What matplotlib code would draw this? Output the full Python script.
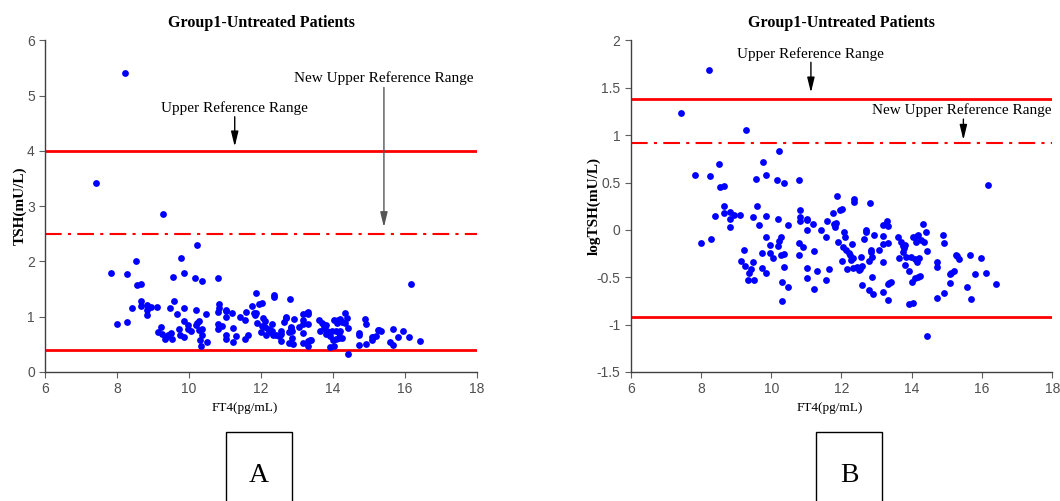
import numpy as np
import matplotlib
matplotlib.use("Agg")
import matplotlib.pyplot as plt
from matplotlib.patches import Rectangle

# FT4 (pg/mL) and natural-log TSH (mU/L) per patient
ft4 = [7.42, 8.22, 7.82, 8.26, 8.52, 8.54, 8.66, 9.28, 9.56, 9.77, 9.86, 10.17, 10.21, 10.35,
       10.80, 11.86, 12.36, 12.36, 16.18,
       8.00, 8.28, 8.40, 8.66, 8.67, 8.83, 8.83, 8.83, 8.94, 9.11, 9.14, 9.23, 9.24, 9.33,
       9.36, 9.42, 9.48, 9.49, 9.52, 9.59, 9.66, 9.73, 9.74, 9.85, 9.86, 9.86, 9.96, 9.96,
       10.06, 10.18, 10.20, 10.21, 10.27, 10.29, 10.31, 10.32, 10.37, 10.37, 10.48, 10.49,
       10.82, 10.82, 10.81, 10.80, 10.80, 10.91, 11.02, 11.03, 11.03, 11.02, 11.02, 11.20,
       11.21, 11.21, 11.31, 11.42, 11.55, 11.55, 11.58, 11.64, 11.75, 11.80, 11.85, 11.82,
       11.90, 11.95, 12.02, 12.01, 12.03, 12.06, 12.10, 12.12, 12.15, 12.20, 12.25, 12.31,
       12.27, 12.32, 12.34, 12.43, 12.50, 12.53, 12.55, 12.57, 12.57, 12.65, 12.69, 12.71,
       12.77, 12.78, 12.82, 12.84, 12.84, 12.86, 12.86, 12.89, 12.93, 13.06, 13.17, 13.18,
       13.18, 13.18, 13.18, 13.28, 13.30, 13.32, 13.32, 13.32, 13.31, 13.40, 13.36, 13.61,
       13.63, 13.70, 13.74, 13.76, 13.78, 13.80, 13.82, 13.83, 13.91, 13.91, 13.97, 14.00,
       14.03, 14.04, 14.08, 14.10, 14.12, 14.14, 14.16, 14.19, 14.20, 14.24, 14.18, 14.26,
       14.33, 14.34, 14.40, 14.43, 14.43, 14.72, 14.72, 14.72, 14.89, 14.91, 14.93, 15.08,
       15.08, 15.11, 15.19, 15.25, 15.29, 15.35, 15.58, 15.66, 15.68, 15.80, 15.96, 16.11,
       16.41]
ln_tsh = [1.23, 1.69, 0.58, 0.57, 0.70, 0.45, 0.46, 1.05, 0.54, 0.72, 0.58, 0.53, 0.83, 0.50,
          0.53, 0.36, 0.33, 0.30, 0.47,
          -0.14, -0.10, 0.15, 0.25, 0.18, 0.19, 0.11, 0.03, 0.16, 0.16, -0.33, -0.21, -0.38, -0.53,
          -0.45, -0.41, 0.14, -0.34, -0.53, 0.25, 0.05, -0.24, -0.40, 0.15, -0.08, -0.45, -0.16, -0.24,
          -0.30, 0.11, -0.17, -0.12, -0.08, -0.27, -0.55, -0.75, -0.25, -0.39, 0.05, -0.60,
          0.21, 0.14, 0.09, -0.14, -0.26, -0.18, 0.00, 0.12, 0.10, -0.40, -0.51, 0.06,
          -0.22, -0.62, -0.43, 0.00, -0.07, -0.53, 0.09, -0.41, 0.18, 0.06, 0.07, 0.03,
          -0.13, 0.21, 0.22, -0.33, -0.18, -0.02, -0.08, -0.21, -0.41, -0.24, -0.27, -0.15,
          -0.32, -0.30, -0.40, -0.39, -0.42, -0.41, -0.29, -0.38, -0.58, -0.10, -0.02, 0.00,
          -0.33, -0.63, 0.28, -0.21, -0.23, -0.50, -0.29, -0.68, -0.05, -0.21, 0.05, -0.06,
          -0.15, -0.34, -0.66, 0.06, 0.09, 0.04, -0.14, -0.57, -0.74, -0.55, -0.56, -0.07,
          -0.30, -0.13, -0.23, -0.17, -0.19, -0.37, -0.16, -0.29, -0.43, -0.78, -0.29, -0.55,
          -0.07, -0.77, -0.31, -0.51, -0.13, -0.06, -0.34, -0.05, -0.30, -0.49, -0.50, -0.11,
          0.06, -0.13, -0.02, -0.22, -1.12, -0.34, -0.39, -0.72, -0.05, -0.14, -0.67, -0.47,
          -0.56, -0.45, -0.43, -0.27, -0.28, -0.31, -0.60, -0.26, -0.73, -0.47, -0.30, -0.45,
          -0.57]

# reference limits for TSH (mU/L)
tsh_upper = 4.0
tsh_new_upper = 2.5
tsh_lower = 0.4

x_ticks = [6, 8, 10, 12, 14, 16, 18]
a_yticks = [0, 1, 2, 3, 4, 5, 6]
b_yticks = [-1.5, -1, -0.5, 0, 0.5, 1, 1.5, 2]
b_ylabels = ["-1.5", "-1", "-0.5", "0", "0.5", "1", "1.5", "2"]

ft4 = np.array(ft4)
ln_tsh = np.array(ln_tsh)
tsh = np.exp(ln_tsh)

serif = "Liberation Serif"
sans = "Liberation Sans"

fig = plt.figure(figsize=(10.6, 5.01), dpi=100)
axA = fig.add_axes([0.0427, 0.2575, 0.407, 0.6617])
axB = fig.add_axes([0.595, 0.2575, 0.3977, 0.6617])


def style_axis(ax):
    for side in ("top", "right"):
        ax.spines[side].set_visible(False)
    for side in ("left", "bottom"):
        ax.spines[side].set_color("#404040")
        ax.spines[side].set_linewidth(1.0)
    ax.tick_params(direction="out", length=4, width=0.8, color="#606060",
                   labelcolor="#505050", labelsize=10)
    for lab in ax.get_xticklabels() + ax.get_yticklabels():
        lab.set_fontfamily(sans)
    ax.set_title("Group1-Untreated Patients", fontfamily=serif, fontweight="bold",
                 fontsize=11.5, pad=10)


def arrow(ax, x, y0, y1, color="black"):
    ax.annotate("", xy=(x, y1), xytext=(x, y0),
                arrowprops=dict(arrowstyle="-|>,head_length=0.9,head_width=0.22",
                                color=color, lw=1.0, shrinkA=0, shrinkB=0))


# panel A: raw TSH
axA.scatter(ft4, tsh, s=24, color="#0000ff", zorder=3, linewidths=0)
axA.axhline(tsh_upper, color="#ff0000", lw=2)
axA.axhline(tsh_new_upper, color="#ff0000", lw=1.5, ls=(0, (8, 3, 1.5, 3)))
axA.axhline(tsh_lower, color="#ff0000", lw=2)
axA.set_xlim(6, 18)
axA.set_ylim(0, 6)
axA.set_xticks(x_ticks)
axA.set_yticks(a_yticks)
style_axis(axA)
axA.set_ylabel("TSH(mU/L)", fontfamily=serif, fontweight="bold", fontsize=11, labelpad=0)
axA.text(11.25, 4.77, "Upper Reference Range", fontfamily=serif, fontsize=11,
         ha="center", va="center")
arrow(axA, 11.27, 4.62, 4.08)
axA.text(15.42, 5.32, "New Upper Reference Range", fontfamily=serif, fontsize=11,
         ha="center", va="center")
arrow(axA, 15.42, 5.15, 2.62, color="#555555")

# panel B: log TSH
axB.scatter(ft4, ln_tsh, s=24, color="#0000ff", zorder=3, linewidths=0)
axB.axhline(np.log(tsh_upper), color="#ff0000", lw=2)
axB.axhline(np.log(tsh_new_upper), color="#ff0000", lw=1.5, ls=(0, (8, 3, 1.5, 3)))
axB.axhline(np.log(tsh_lower), color="#ff0000", lw=2)
axB.set_xlim(6, 18)
axB.set_ylim(-1.5, 2)
axB.set_xticks(x_ticks)
axB.set_yticks(b_yticks)
axB.set_yticklabels(b_ylabels)
style_axis(axB)
axB.set_ylabel("logTSH(mU/L)", fontfamily=serif, fontweight="bold", fontsize=11, labelpad=-3)
axB.text(11.13, 1.86, "Upper Reference Range", fontfamily=serif, fontsize=11,
         ha="center", va="center")
arrow(axB, 11.13, 1.77, 1.45)
axB.text(15.43, 1.27, "New Upper Reference Range", fontfamily=serif, fontsize=11,
         ha="center", va="center")
arrow(axB, 15.47, 1.17, 0.95)

# x labels sit a little left of the axis centres
fig.text(245 / 1060, 1 - 408 / 501, "FT4(pg/mL)", fontfamily=serif, fontsize=9.5,
         ha="center", va="center")
fig.text(830 / 1060, 1 - 408 / 501, "FT4(pg/mL)", fontfamily=serif, fontsize=9.5,
         ha="center", va="center")

# boxed panel letters
for letter, left in (("A", 226), ("B", 816)):
    fig.patches.append(Rectangle((left / 1060, -0.02), 66 / 1060, (501 - 432) / 501 + 0.02,
                                 transform=fig.transFigure, fill=False, lw=1.0,
                                 edgecolor="black"))
    fig.text((left + 33) / 1060, 1 - 475 / 501, letter, fontfamily=serif, fontsize=20,
             ha="center", va="center")

fig.savefig("out.png", dpi=100)
